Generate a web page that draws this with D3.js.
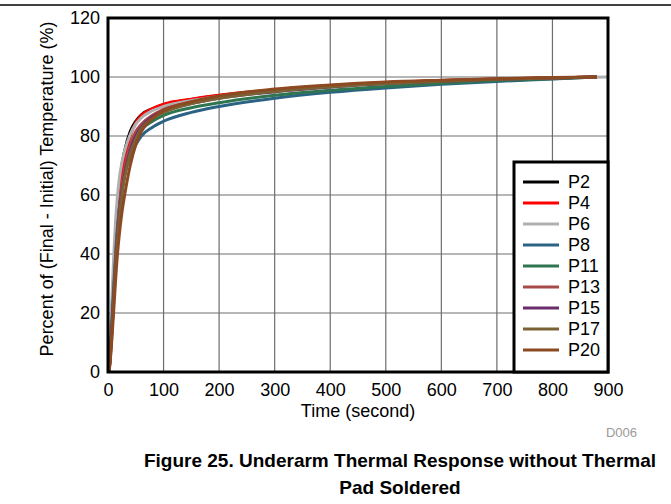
<!DOCTYPE html>
<html>
<head>
<meta charset="utf-8">
<script src="https://cdn.jsdelivr.net/npm/d3@7"></script>
<style>
  body { margin: 0; background: #fff; }
  svg { display: block; font-family: Arial, "Liberation Sans", sans-serif; }
</style>
</head>
<body>
<div class="container"></div>
<script>
// Data
const seriesNames = ['P2', 'P4', 'P6', 'P8', 'P11', 'P13', 'P15', 'P17', 'P20'];
const seriesColors = ['#000000', '#ff0000', '#b0b0b0', '#2b6384', '#2f7550', '#a84a4a', '#6b2c6b', '#7a6234', '#8c4a22'];

const times = [2, 5, 10, 15, 20, 25, 30, 40, 50, 60, 80, 100, 150, 200, 300, 400, 500, 600, 700, 800, 880];
const timesP6 = [2, 5, 10, 15, 20, 25, 30, 40, 50, 60, 80, 100, 150, 200, 300, 400, 500, 600, 700, 800, 900];

const p2 = [0, 12, 32, 50, 62, 70, 75, 81.5, 85, 87.2, 89.2, 90.6, 92.4, 93.7, 95.6, 97, 98, 98.8, 99.3, 99.7, 100];
const p4 = [0, 10, 28, 45, 57, 66, 72, 80, 84.5, 87, 89.3, 90.8, 92.5, 93.8, 95.7, 97.1, 98.1, 98.8, 99.3, 99.7, 100];
const p6 = [0, 16, 38, 55, 65, 71, 75, 80.5, 84, 86.2, 88.6, 90, 92, 93.4, 95.4, 96.9, 97.9, 98.7, 99.3, 99.7, 100];
const p8 = [0, 10, 28, 44, 55, 62, 67, 73, 77, 80, 83, 85, 88, 90, 92.8, 94.8, 96.3, 97.5, 98.5, 99.3, 100];
const p11 = [0, 9, 26, 42, 54, 62, 68, 75, 79, 82, 85, 87, 89.6, 91.3, 93.8, 95.5, 96.8, 97.9, 98.8, 99.4, 100];
const p13 = [0, 8, 25, 42, 54, 63, 69, 77, 81.5, 84, 87, 89, 91.5, 93.2, 95.3, 96.8, 97.9, 98.7, 99.3, 99.7, 100];
const p15 = [0, 8, 24, 40, 52, 61, 67, 75, 80, 83, 86.5, 88.5, 91, 92.8, 95, 96.6, 97.8, 98.6, 99.2, 99.7, 100];
const p17 = [0, 7, 23, 39, 51, 60, 66, 74, 79, 82.5, 86, 88, 91, 92.8, 95.1, 96.7, 97.8, 98.6, 99.2, 99.7, 100];
const p20 = [0, 6, 20, 35, 46, 54, 60, 70, 77, 81.5, 86, 88.6, 91.6, 93.6, 95.9, 97.3, 98.3, 98.9, 99.4, 99.8, 100];

const seriesValues = [p2, p4, p6, p8, p11, p13, p15, p17, p20];
const seriesTimes = [times, times, timesP6, times, times, times, times, times, times];

const xTicks = [0, 100, 200, 300, 400, 500, 600, 700, 800, 900];
const yTicks = [0, 20, 40, 60, 80, 100, 120];

// Layout
const width = 671;
const height = 504;
const margin = { top: 18, right: 63, bottom: 132, left: 108 };
const plotW = width - margin.left - margin.right;
const plotH = height - margin.top - margin.bottom;

const svg = d3.select('.container')
  .append('svg')
  .attr('width', width)
  .attr('height', height);

// rule at the top of the page
svg.append('line')
  .attr('x1', 0).attr('x2', width)
  .attr('y1', 5).attr('y2', 5)
  .attr('stroke', '#000')
  .attr('stroke-width', 1.5);

const x = d3.scaleLinear().domain([0, 900]).range([0, plotW]);
const y = d3.scaleLinear().domain([0, 120]).range([plotH, 0]);

const g = svg.append('g').attr('transform', `translate(${margin.left},${margin.top})`);

g.append('rect').attr('width', plotW).attr('height', plotH).attr('fill', '#fff');

// grid
g.append('g')
  .selectAll('line')
  .data(xTicks.slice(1, -1))
  .enter()
  .append('line')
  .attr('x1', (d) => x(d)).attr('x2', (d) => x(d))
  .attr('y1', 0).attr('y2', plotH)
  .attr('stroke', '#6e6e6e')
  .attr('stroke-width', 1.2);

g.append('g')
  .selectAll('line')
  .data(yTicks.slice(1, -1))
  .enter()
  .append('line')
  .attr('y1', (d) => y(d)).attr('y2', (d) => y(d))
  .attr('x1', 0).attr('x2', plotW)
  .attr('stroke', '#6e6e6e')
  .attr('stroke-width', 1.2);

// curves
const line = d3.line()
  .x((d) => x(d[0]))
  .y((d) => y(d[1]))
  .curve(d3.curveMonotoneX);

seriesNames.forEach((name, i) => {
  const pts = seriesTimes[i].map((t, j) => [t, seriesValues[i][j]]);
  g.append('path')
    .datum(pts)
    .attr('fill', 'none')
    .attr('stroke', seriesColors[i])
    .attr('stroke-width', 3)
    .attr('d', line);
});

// axes (labels only, frame drawn separately)
const xAxis = g.append('g')
  .attr('transform', `translate(0,${plotH})`)
  .call(d3.axisBottom(x).tickValues(xTicks).tickSize(0).tickPadding(11));
const yAxis = g.append('g')
  .call(d3.axisLeft(y).tickValues(yTicks).tickSize(0).tickPadding(8));
[xAxis, yAxis].forEach((a) => {
  a.select('.domain').remove();
  a.selectAll('text')
    .attr('fill', '#000')
    .style('font-size', '18px')
    .style('font-family', 'Arial, "Liberation Sans", sans-serif');
});

// frame
g.append('rect')
  .attr('width', plotW).attr('height', plotH)
  .attr('fill', 'none')
  .attr('stroke', '#000')
  .attr('stroke-width', 3);

// legend
const legend = g.append('g').attr('transform', `translate(${plotW - 94},${plotH - 210})`);
legend.append('rect')
  .attr('width', 94).attr('height', 210)
  .attr('fill', '#fff')
  .attr('stroke', '#000')
  .attr('stroke-width', 3);

const item = legend.selectAll('g')
  .data(seriesNames)
  .enter()
  .append('g')
  .attr('transform', (d, i) => `translate(0,${20 + i * 21})`);

item.append('line')
  .attr('x1', 9).attr('x2', 45)
  .attr('stroke', (d, i) => seriesColors[i])
  .attr('stroke-width', 3);

item.append('text')
  .attr('x', 54)
  .attr('dy', '0.36em')
  .style('font-size', '18px')
  .text((d) => d);

// axis titles
svg.append('text')
  .attr('x', margin.left + plotW / 2)
  .attr('y', 417)
  .attr('text-anchor', 'middle')
  .style('font-size', '18px')
  .text('Time (second)');

svg.append('text')
  .attr('transform', `translate(53,189) rotate(-90)`)
  .attr('text-anchor', 'middle')
  .style('font-size', '18px')
  .text('Percent of (Final - Initial) Temperature (%)');

svg.append('text')
  .attr('x', 637)
  .attr('y', 437)
  .attr('text-anchor', 'end')
  .attr('fill', '#9a9a9a')
  .style('font-size', '13px')
  .text('D006');

// caption
svg.append('text')
  .attr('x', 400)
  .attr('y', 467)
  .attr('text-anchor', 'middle')
  .style('font-size', '19px')
  .style('font-weight', 'bold')
  .text('Figure 25. Underarm Thermal Response without Thermal');

svg.append('text')
  .attr('x', 400)
  .attr('y', 494)
  .attr('text-anchor', 'middle')
  .style('font-size', '19px')
  .style('font-weight', 'bold')
  .text('Pad Soldered');
</script>
</body>
</html>
